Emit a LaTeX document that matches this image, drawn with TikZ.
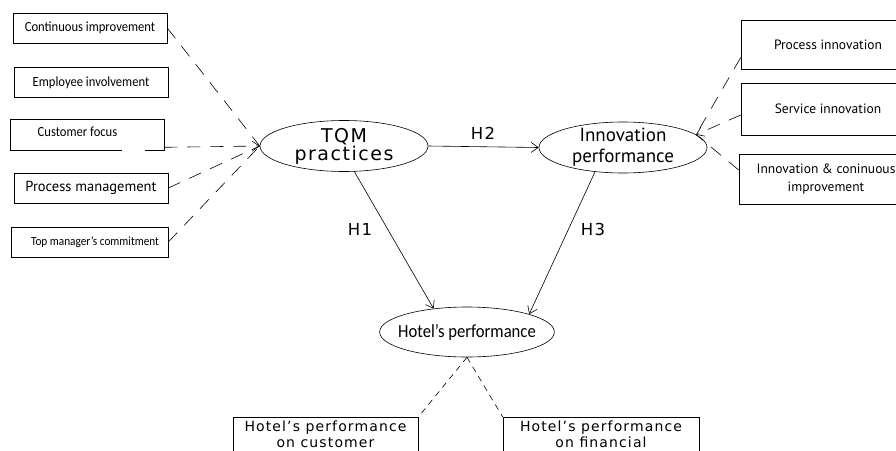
\documentclass[tikz,border=0pt]{standalone}
\usepackage{fontspec}
\setmainfont{PT Sans}
\newfontfamily\condfont[FakeStretch=0.9]{Carlito}
\newfontfamily\widefont[LetterSpace=8]{DejaVu Sans}
\usetikzlibrary{arrows.meta,shapes.geometric}

\begin{document}
\begin{tikzpicture}[x=1pt,y=-1pt,line width=0.6pt,
    item/.style={draw, rectangle, inner sep=0pt, minimum width=154pt, minimum height=30pt,
        font=\condfont\fontsize{14}{16}\selectfont},
    construct/.style={draw, ellipse, inner xsep=0pt, inner ysep=-6pt, minimum width=168pt, minimum height=51pt},
    hyp/.style={-{Straight Barb[length=7pt,width=10pt]}},
    link/.style={dash pattern=on 13pt off 10pt},
    tag/.style={font=\widefont\fontsize{16.5}{17}\selectfont}]

\useasboundingbox (0,0) rectangle (896,450);
\clip (0,0) rectangle (896,450);

% ===== Constructs =====
\node[construct, font=\widefont\fontsize{19}{18}\selectfont, align=center] (tqm) at (344,146) {TQM\\practices};
\node[construct, font=\fontsize{19}{21}\selectfont, align=center] (innov) at (623,147.5) {Innovation\\performance};
\node[construct, inner xsep=-7pt, minimum width=169pt, minimum height=50pt, font=\condfont\fontsize{18.5}{18}\selectfont] (hotel) at (467,332) {Hotel’s performance};

% ===== TQM items (left) =====
\node[item] (cont) at (90,28) {Continuous improvement};
\node[item] (emp) at (91,82.5) {Employee involvement};
\node[item, minimum height=31pt] (cust) at (87,134.5) {};
\node[font=\condfont\fontsize{14}{16}\selectfont] (custtext) at (77.5,132) {Customer focus};
\node[item, font=\fontsize{14.5}{16}\selectfont] (proc) at (91,188) {Process management};
\node[item, minimum width=157pt] (top) at (89.5,242) {};
\node[font=\condfont\fontsize{12.5}{15}\selectfont] (toptext) at (95,242) {Top manager’s commitment};
% gap in the bottom edge
\draw[white, line width=2pt] (122,150) -- (145,150);

% ===== Innovation items (right) =====
\node[item, minimum width=174pt, minimum height=49pt, font=\fontsize{13.5}{15}\selectfont] (pinn) at (828,44.5) {Process innovation};
\node[item, minimum width=174pt, minimum height=52pt, font=\fontsize{13.5}{15}\selectfont] (sinn) at (828,109) {Service innovation};
\node[item, minimum width=174pt, minimum height=50pt, align=center, font=\fontsize{13.5}{18}\selectfont] (icont) at (826,179) {Innovation \& coninuous\\improvement};

% ===== Hotel items (bottom) =====
\node[item, anchor=north, minimum width=185pt, inner ysep=4pt, align=center, font=\widefont\fontsize{14}{16}\selectfont] (hcus) at (325.5,417) {Hotel’s performance\\on customer};
\node[item, anchor=north, minimum width=196pt, inner ysep=4pt, align=center, font=\widefont\fontsize{14}{16}\selectfont] (hfin) at (601,417) {Hotel’s performance\\on financial};

% ===== Hypotheses =====
\draw[hyp] (tqm.east) -- (innov.west);
\draw[hyp] (tqm.-68) -- (hotel.145);
\draw[hyp] (innov.221) -- (hotel.16);
\node[tag] (h2) at (483,133) {H2};
\node[tag] (h1) at (360,229) {H1};
\node[tag] (h3) at (593,229) {H3};

% ===== Measurement links =====
\draw[link] (cont.east) -- (tqm.west);
\draw[link, hyp] ([yshift=3pt]cust.south east) -- (tqm.west);
\draw[link] (proc.east) -- (tqm.west);
\draw[link] (top.east) -- (tqm.west);

\draw[link] ([yshift=-13pt]pinn.west) -- (innov.10);
\draw[link, hyp] ([yshift=-6pt]sinn.west) -- (innov.10);
\draw[link] ([yshift=9pt]icont.west) -- (innov.10);

\draw[dash pattern=on 6pt off 5pt] (hotel.south) -- (hcus.north east);
\draw[dash pattern=on 6pt off 5pt] (hotel.south) -- (hfin.north west);

\end{tikzpicture}
\end{document}
